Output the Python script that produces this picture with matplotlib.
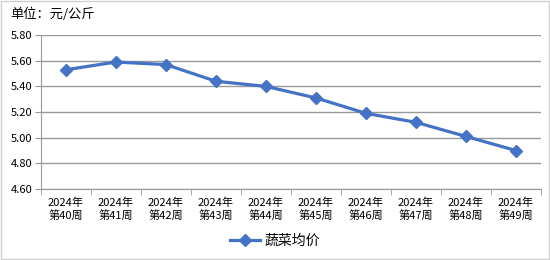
import matplotlib.pyplot as plt
from matplotlib.patches import Rectangle

plt.rcParams['font.family'] = ['Noto Sans CJK SC', 'DejaVu Sans']

weeks = ["2024年\n第40周", "2024年\n第41周", "2024年\n第42周", "2024年\n第43周",
         "2024年\n第44周", "2024年\n第45周", "2024年\n第46周", "2024年\n第47周",
         "2024年\n第48周", "2024年\n第49周"]
prices = [5.53, 5.59, 5.57, 5.44, 5.40, 5.31, 5.19, 5.12, 5.01, 4.90]
yticks = [4.60, 4.80, 5.00, 5.20, 5.40, 5.60, 5.80]

fig = plt.figure(figsize=(5.5, 2.6), dpi=100)
ax = fig.add_axes([0.0745, 0.273, 0.909, 0.592])

x = list(range(len(weeks)))
ax.plot(x, prices, color="#4472C4", linewidth=2.3, marker="D", markersize=6,
        label="蔬菜均价")

ax.set_xlim(-0.5, len(weeks) - 0.5)
ax.set_ylim(4.60, 5.80)
ax.set_yticks(yticks)
ax.set_yticklabels([f"{v:.2f}" for v in yticks], fontsize=8)
ax.yaxis.grid(True, color="#999999", linewidth=1)
ax.set_axisbelow(True)

ax.set_xticks(x)
ax.set_xticklabels(weeks, fontsize=8, linespacing=1.3)
ax.set_xticks([i - 0.5 for i in range(len(weeks) + 1)], minor=True)
ax.tick_params(axis="x", which="major", length=0, pad=6)
ax.tick_params(axis="x", which="minor", length=4, color="#999999")
ax.tick_params(axis="y", length=4, color="#999999", pad=2)

for s in ["top", "right"]:
    ax.spines[s].set_visible(False)
ax.spines["left"].set_color("#999999")
ax.spines["bottom"].set_color("#999999")

fig.text(0.018, 0.945, "单位：元/公斤", fontsize=9.5, va="center")

fig.legend(loc="center", bbox_to_anchor=(0.5, 0.073), frameon=False, fontsize=10,
           handlelength=2.2, handletextpad=0.3)

fig.patches.append(Rectangle((0.002, 0.004), 0.996, 0.992, transform=fig.transFigure,
                             fill=False, edgecolor="#d0d0d0", linewidth=1))

fig.savefig("out.png", dpi=100)
